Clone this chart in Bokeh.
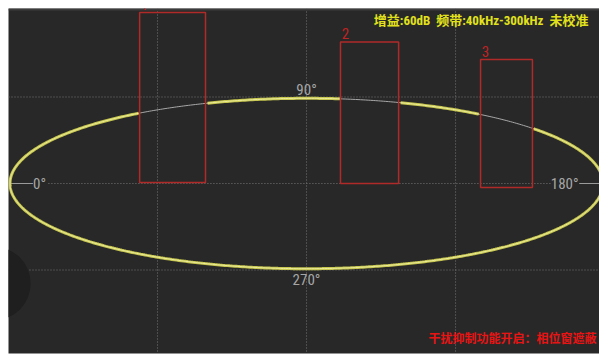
import numpy as np
from bokeh.plotting import figure
from bokeh.models import Range1d, Span
from bokeh.core.properties import value
from bokeh.embed import file_html
from bokeh.resources import INLINE

# ---------------- data (normalized display units) ----------------
ellipse_rx = 0.995          # half width of the phase ellipse
ellipse_ry = 0.985          # half height of the phase ellipse
phase_deg = np.arange(0.0, 360.5, 0.5)   # sampling of the phase circle

win_labels = ["1", "2", "3"]
win_left = [-0.560, 0.114, 0.584]
win_right = [-0.339, 0.309, 0.758]
win_top = [1.977, 1.636, 1.434]
win_bottom = [0.012, 0.0, -0.046]

x_ticks = [-0.5, 0.0, 0.5]
y_ticks = [-1.0, 1.0]

phase_labels = ["0°", "90°", "180°", "270°"]
phase_label_x = [-0.896, 0.0, 0.866, 0.0]
phase_label_y = [0.0, 1.085, -0.01, -1.12]

center_solid_x0 = [-1.0, 0.915]
center_solid_x1 = [-0.918, 0.99]
center_dot_x0 = [-0.866]
center_dot_x1 = [0.822]

header_text = ["增益:60dB \u00a0频带:40kHz-300kHz \u00a0未校准"]
footer_text = ["干扰抑制功能开启：相位窗遮蔽"]

NARROW = "'Liberation Sans Narrow', 'Roboto Condensed', 'DejaVu Sans Condensed', Roboto"

# ---------------- figure ----------------
BG = "#282828"
p = figure(width=599, height=354, x_range=Range1d(-1.0, 0.983), y_range=Range1d(-1.965, 2.023),
           x_axis_location=None, y_axis_location=None, toolbar_location=None,
           output_backend="svg", min_border_left=8, min_border_top=8,
           min_border_right=0, min_border_bottom=1)
p.background_fill_color = BG
p.border_fill_color = "white"
p.outline_line_color = None
p.xgrid.visible = False
p.ygrid.visible = False

for t in x_ticks:
    p.add_layout(Span(location=t, dimension="height", line_color="#767676",
                      line_dash="1 2", line_width=1, level="underlay"))
for t in y_ticks:
    p.add_layout(Span(location=t, dimension="width", line_color="#767676",
                      line_dash="1 2", line_width=1, level="underlay"))
p.add_layout(Span(location=2.01, dimension="width", line_color="#3c3c3c", line_width=2,
                  level="underlay"))

# floating dark button on the left edge
p.scatter(x=[-1.05], y=[-1.156], size=74, marker="circle", fill_color="#1f1f1f",
          line_color=None)

# centre line
p.segment(x0=center_solid_x0, y0=[0, 0], x1=center_solid_x1, y1=[0, 0],
          line_color="#9a9a9a", line_width=1.2)
p.segment(x0=center_dot_x0, y0=[0], x1=center_dot_x1, y1=[0],
          line_color="#767676", line_dash="1 2", line_width=1)

# ellipse trace
th = np.deg2rad(phase_deg)
ex = -ellipse_rx * np.cos(th)
ey = ellipse_ry * np.sin(th)
mask = np.zeros_like(ex, dtype=bool)
for l, r, t, b in zip(win_left, win_right, win_top, win_bottom):
    mask |= (ex >= l) & (ex <= r) & (ey >= b) & (ey <= t)
ey_vis = np.where(mask, np.nan, ey)

p.line(ex, ey, line_color="#a8a8a8", line_width=1)
p.line(ex, ey_vis, line_color="#c6c650", line_width=3.0)
p.line(ex, ey_vis, line_color="#ecec9c", line_width=1)

# masked phase windows
p.quad(left=win_left, right=win_right, top=win_top, bottom=win_bottom,
       fill_color=None, line_color="#b02a2a", line_width=1.5)
p.text(x=[l + 0.004 for l in win_left], y=[t + 0.03 for t in win_top], text=win_labels,
       text_color="#c02424", text_font_size="15px", text_baseline="bottom",
       text_align="left", text_font=value(NARROW))

# phase labels
p.text(x=phase_label_x, y=phase_label_y, text=phase_labels, text_color="#a6a6a6",
       text_font_size="15px", text_align="center", text_baseline="middle",
       text_font=value(NARROW))

# status texts
p.text(x=[0.946], y=[1.89], text=header_text, text_color="#e2e21c",
       text_font_size="13px", text_font_style="bold", text_align="right",
       text_baseline="middle",
       text_font=value(NARROW + ", 'Noto Sans CJK SC'"))
p.text(x=[0.973], y=[-1.78], text=footer_text, text_color="#e81414",
       text_font_size="12px", text_font_style="bold", text_align="right",
       text_baseline="middle", text_font=value("Noto Sans CJK SC"))

open("out.html", "w").write(file_html(p, INLINE))
